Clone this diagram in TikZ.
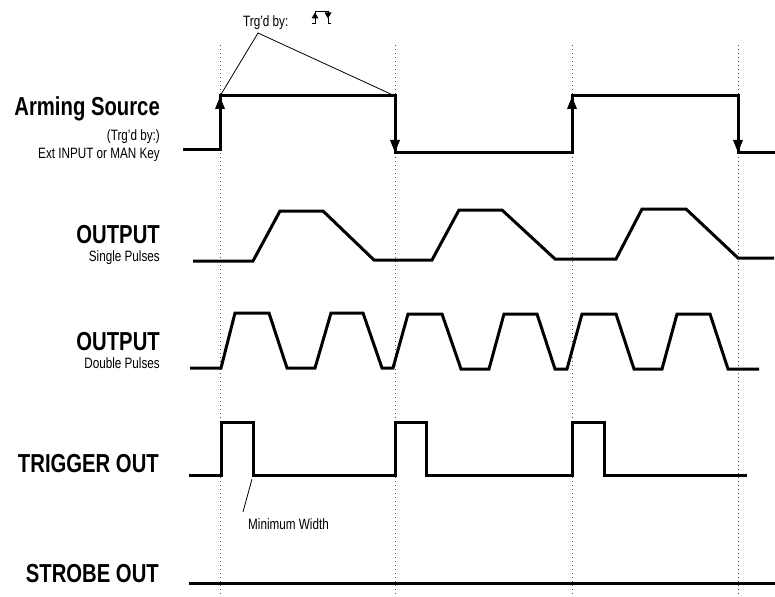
\documentclass[tikz,border=0pt]{standalone}
\usepackage{fontspec}
\setmainfont[FakeStretch=0.78]{Liberation Sans}
\usetikzlibrary{arrows.meta}
\begin{document}
\begin{tikzpicture}[x=1pt,y=-1pt]
\tikzset{wave/.style={line width=3pt,line join=miter},
         edgetip/.style={line width=3pt,-{Triangle[width=9pt,length=13pt]}},
         guide/.style={line width=1pt,black!70,dash pattern=on 1.2pt off 2.8pt},
         callout/.style={line width=0.8pt},
         signal/.style={font=\fontsize{26}{26}\selectfont\bfseries,inner sep=0pt,anchor=base east},
         note/.style={font=\fontsize{15}{15}\selectfont,inner sep=0pt}}
\useasboundingbox (0,0) rectangle (775,596);
\foreach \x in {220,395,572,738}
  \draw[guide] (\x,45) -- (\x,596);
\node[signal] (arm) at (160,116) {Arming Source};
\node[note,anchor=base east] (armsub) at (160,141) {(Trg'd by:)};
\node[note,anchor=base east] (armsrc) at (160,159) {Ext INPUT or MAN Key};
\node[signal] (out1) at (160,243) {OUTPUT};
\node[note,anchor=base east] (out1sub) at (160,261) {Single Pulses};
\node[signal] (out2) at (160,350) {OUTPUT};
\node[note,anchor=base east] (out2sub) at (160,368) {Double Pulses};
\node[signal] (trig) at (159,472) {TRIGGER OUT};
\node[signal] (strb) at (159,582) {STROBE OUT};
\node[note,anchor=base west] (trgd) at (243,27) {Trg'd by:};
\node[note,anchor=base west] (minw) at (248,529) {Minimum Width};
\coordinate (a1) at (220,96);
\coordinate (a2) at (395,96);
\coordinate (a3) at (572,96);
\coordinate (a4) at (738,96);
\coordinate (apex) at (258,33);
\coordinate (tfall) at (252,479);
\draw[wave] (183,150) -- (220,150) -- (a1) -- (a2) -- (395,153) -- (572,153)
  -- (a3) -- (a4) -- (738,153) -- (775,153);
\draw[edgetip] (220,125) -- (a1);
\draw[edgetip] (a2) -- (395,153);
\draw[edgetip] (572,125) -- (a3);
\draw[edgetip] (a4) -- (738,153);
\draw[callout] (a1) -- (apex) -- (a2);
\draw[line width=1pt] (312,24) -- (315,24) -- (315,12) -- (328,12) -- (328,24) -- (331,24);
\fill (311.5,18.5) -- (318.5,18.5) -- (315,12.5) -- cycle;
\fill (324.5,12.5) -- (331.5,12.5) -- (328,18.5) -- cycle;
\draw[wave] (193,261) -- (253,261) -- (280,211) -- (323,211) -- (374,260) -- (432,260)
  -- (459,210) -- (502,210) -- (555,259) -- (616,259) -- (642,209) -- (686,209)
  -- (738,258) -- (774,258);
\draw[wave] (190,368) -- (221,368) -- (235,313) -- (269,313) -- (287,368) -- (315,368)
  -- (331,313) -- (363,313) -- (382,368) -- (393,368) -- (408,314) -- (442,314)
  -- (461,369) -- (489,369) -- (504,314) -- (537,314) -- (555,369) -- (567,369)
  -- (582,314) -- (616,314) -- (634,369) -- (662,369) -- (677,314) -- (710,314)
  -- (728,369) -- (759,369);
\draw[wave] (189,475) -- (221,475) -- (221,422) -- (253,422) -- (253,475) -- (395,475)
  -- (395,422) -- (426,422) -- (426,475) -- (572,475) -- (572,422) -- (604,422)
  -- (604,475) -- (747,475);
\draw[callout] (tfall) -- ([shift={(-5,-6)}]minw.north west);
\draw[wave] (189,583) -- (775,583);
\end{tikzpicture}
\end{document}
